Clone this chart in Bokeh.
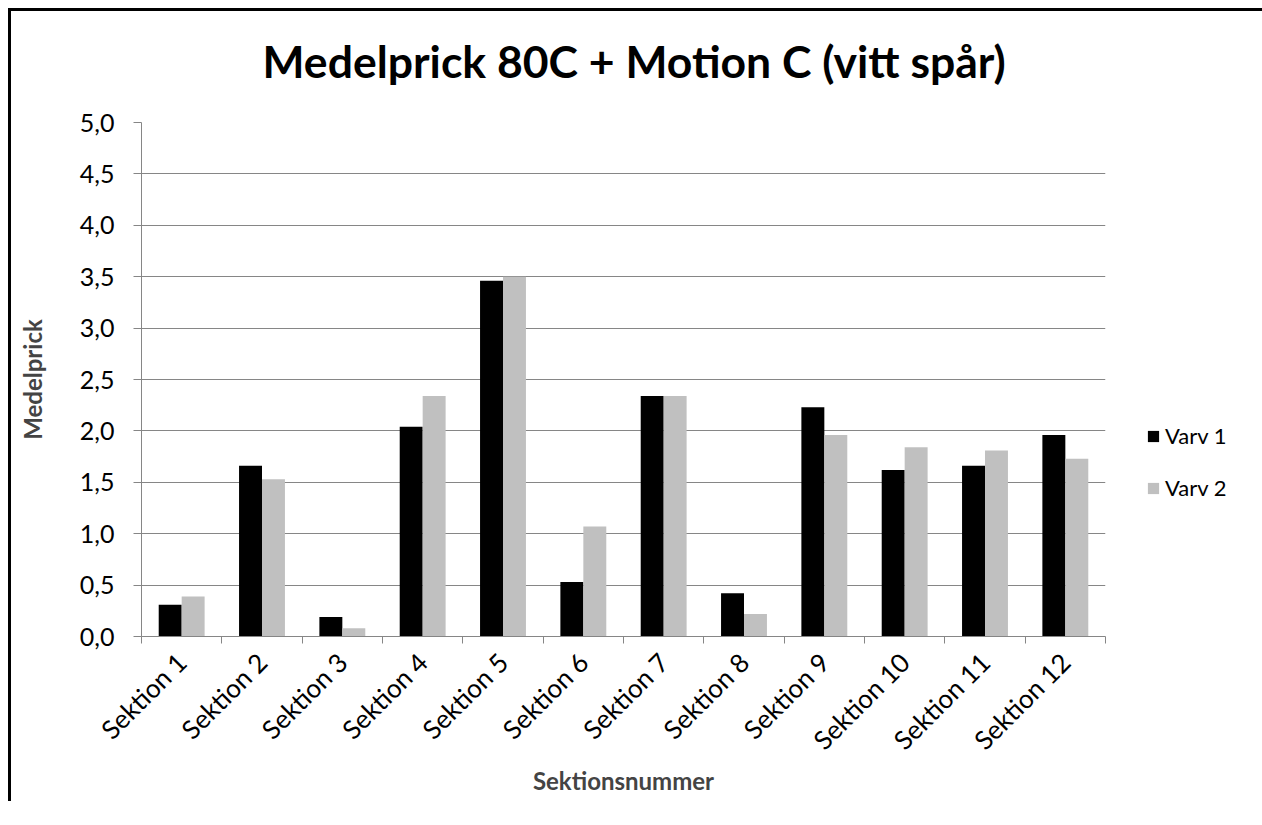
import math
from bokeh.plotting import figure
from bokeh.models import (ColumnDataSource, FixedTicker, CustomJSTickFormatter,
                          Legend, LegendItem, Range1d, Title)
from bokeh.transform import dodge
from bokeh.embed import file_html
from bokeh.resources import INLINE

# ---- data ----
categories = ["Sektion 1", "Sektion 2", "Sektion 3", "Sektion 4", "Sektion 5", "Sektion 6",
              "Sektion 7", "Sektion 8", "Sektion 9", "Sektion 10", "Sektion 11", "Sektion 12"]
varv1 = [0.31, 1.66, 0.19, 2.04, 3.46, 0.53, 2.34, 0.42, 2.23, 1.62, 1.66, 1.96]
varv2 = [0.39, 1.53, 0.08, 2.34, 3.50, 1.07, 2.34, 0.22, 1.96, 1.84, 1.81, 1.73]
series_names = ["Varv 1", "Varv 2"]
series_colors = ["#000000", "#C0C0C0"]
y_ticks = [0.0, 0.5, 1.0, 1.5, 2.0, 2.5, 3.0, 3.5, 4.0, 4.5, 5.0]
y_tick_labels = ["0,0", "0,5", "1,0", "1,5", "2,0", "2,5", "3,0", "3,5", "4,0", "4,5", "5,0"]
title_text = "Medelprick 80C + Motion C (vitt spår)"
x_title = "Sektionsnummer"
y_title = "Medelprick"

FONT = "Lato"
GRID = "#868686"

xpos = [i + 1 for i in range(len(categories))]
bounds = [i + 0.5 for i in range(len(categories) + 1)]
src = ColumnDataSource(dict(x=xpos, v1=varv1, v2=varv2))

p = figure(frame_width=964, frame_height=514, output_backend="svg", toolbar_location=None,
           x_range=Range1d(0.5, len(categories) + 0.5), y_range=Range1d(0, 5),
           min_border_left=133, min_border_right=149, min_border_top=127, min_border_bottom=165)
# chart-area frame (only its left and top edges fall inside the window)
p.styles = {"margin-left": "8px", "margin-top": "-5px", "overflow": "hidden",
            "background": ("linear-gradient(#000000, #000000) 0px 13px / 100% 3px no-repeat, "
                           "linear-gradient(#000000, #000000) 0px 13px / 3px 100% no-repeat")}
p.outline_line_color = None
p.background_fill_color = "white"
p.border_fill_alpha = 0

bw = 1 / 3.5
r1 = p.vbar(x=dodge("x", -bw / 2, range=p.x_range), top="v1", width=bw, source=src,
            fill_color=series_colors[0], line_color=None)
r2 = p.vbar(x=dodge("x", bw / 2, range=p.x_range), top="v2", width=bw, source=src,
            fill_color=series_colors[1], line_color=None)

# title
p.title = Title(text=title_text, align="left", offset=121, standoff=72,
                text_font=FONT, text_font_size="44.5px", text_font_style="bold",
                text_color="#000000")

# x axis
xa = p.xaxis[0]
xa.ticker = FixedTicker(ticks=xpos, minor_ticks=bounds)
xa.formatter = CustomJSTickFormatter(args=dict(cat_labels=categories),
                                     code="return cat_labels[Math.round(tick) - 1];")
xa.major_tick_line_color = None
xa.major_tick_out = 0
xa.major_tick_in = 0
xa.minor_tick_line_color = GRID
xa.minor_tick_out = 7
xa.minor_tick_in = 0
xa.axis_line_color = GRID
xa.major_label_orientation = math.pi / 4
xa.major_label_standoff = 14
xa.major_label_text_font = FONT
xa.major_label_text_font_size = "26px"
xa.major_label_text_color = "#000000"
xa.axis_label = x_title
xa.axis_label_text_font = FONT
xa.axis_label_text_font_size = "24px"
xa.axis_label_text_font_style = "bold"
xa.axis_label_standoff = -4

# y axis
ya = p.yaxis[0]
ya.ticker = FixedTicker(ticks=y_ticks)
ya.formatter = CustomJSTickFormatter(args=dict(yvals=y_ticks, ylabs=y_tick_labels), code="""
for (let i = 0; i < yvals.length; i++) { if (Math.abs(yvals[i] - tick) < 1e-9) return ylabs[i]; }
return '';
""")
ya.major_tick_line_color = GRID
ya.major_tick_out = 8
ya.major_tick_in = 0
ya.minor_tick_line_color = None
ya.axis_line_color = GRID
ya.major_label_standoff = 19
ya.major_label_text_font = FONT
ya.major_label_text_font_size = "25px"
ya.major_label_text_color = "#000000"
ya.axis_label = y_title
ya.axis_label_text_font = FONT
ya.axis_label_text_font_size = "24px"
ya.axis_label_text_font_style = "bold"
ya.axis_label_standoff = 30

p.xgrid.visible = False
p.ygrid.grid_line_color = GRID
p.ygrid.grid_line_width = 1

legend = Legend(items=[LegendItem(label=series_names[0], renderers=[r1]),
                       LegendItem(label=series_names[1], renderers=[r2])],
                location=(41, 135), orientation="vertical",
                glyph_width=14, glyph_height=14, label_standoff=5, spacing=25,
                label_text_font=FONT, label_text_font_size="22px", label_text_color="#000000",
                border_line_color=None, background_fill_alpha=0, padding=0, margin=0)
p.add_layout(legend, "right")

open("out.html", "w").write(file_html(p, INLINE))
